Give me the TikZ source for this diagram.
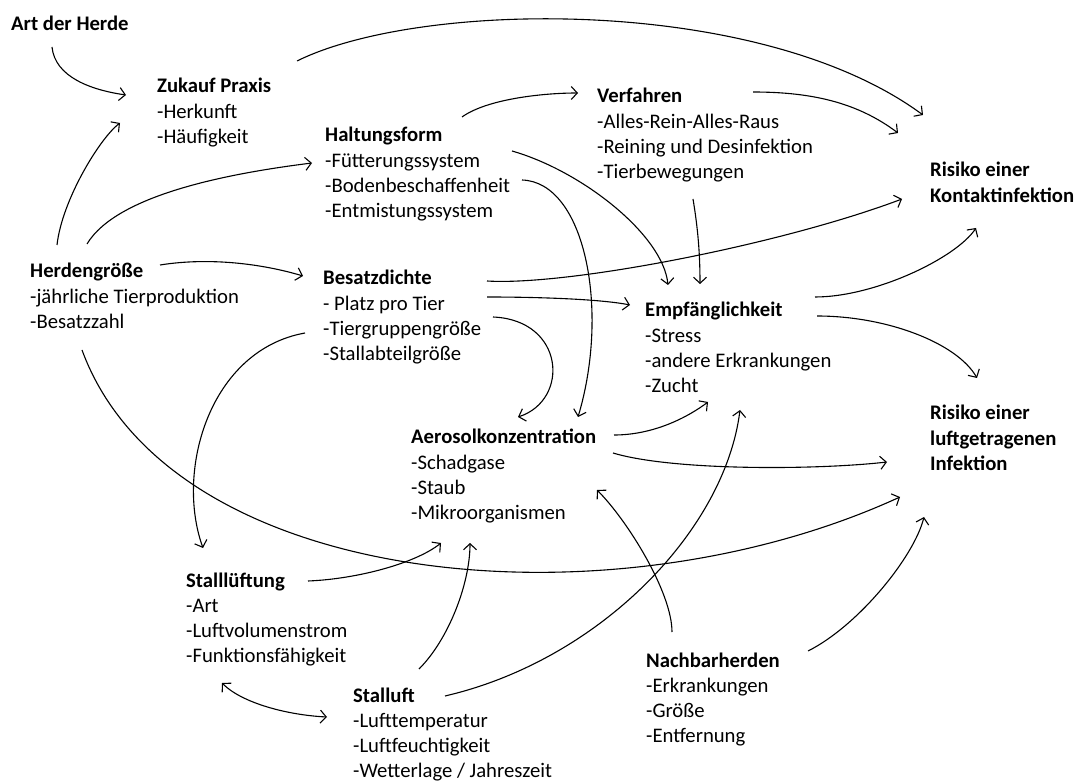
\documentclass[tikz,border=0pt]{standalone}
\usepackage{fontspec}
\setmainfont{Carlito}
\usetikzlibrary{arrows.meta}
\newcommand{\boxlines}[1]{\begin{tabular}[t]{@{}l@{}}#1\end{tabular}}

\begin{document}
\begin{tikzpicture}[x=1pt,y=-1pt,
  box/.style={anchor=base west,inner sep=0pt,
    font=\fontsize{20.7}{25.3}\selectfont},
  arr/.style={-{Straight Barb[length=6pt,width=13pt]},line width=1.1pt},
  dblarr/.style={{Straight Barb[length=6pt,width=13pt]}-{Straight Barb[length=6pt,width=13pt]},line width=1.1pt}]
\useasboundingbox (0,0) rectangle (1077,783);
% factors
\node[box] (art) at (11,31) {\textbf{Art der Herde}};
\node[box] (zukauf) at (157,93) {\boxlines{\textbf{Zukauf Praxis}\\-Herkunft\\-Häufigkeit}};
\node[box] (haltung) at (325,142) {\boxlines{\textbf{Haltungsform}\\-Fütterungssystem\\-Bodenbeschaffenheit\\-Entmistungssystem}};
\node[box] (verfahren) at (597,103) {\boxlines{\textbf{Verfahren}\\-Alles-Rein-Alles-Raus\\-Reining und Desinfektion\\-Tierbewegungen}};
\node[box] (herden) at (30,278) {\boxlines{\textbf{Herdengröße}\\-jährliche Tierproduktion\\-Besatzzahl}};
\node[box] (besatz) at (323,285) {\boxlines{\textbf{Besatzdichte}\\- Platz pro Tier\\-Tiergruppengröße\\-Stallabteilgröße}};
\node[box] (empf) at (645,317) {\boxlines{\textbf{Empfänglichkeit}\\-Stress\\-andere Erkrankungen\\-Zucht}};
\node[box] (aerosol) at (411,444) {\boxlines{\textbf{Aerosolkonzentration}\\-Schadgase\\-Staub\\-Mikroorganismen}};
\node[box] (lueftung) at (186,587) {\boxlines{\textbf{Stalllüftung}\\-Art\\-Luftvolumenstrom\\-Funktionsfähigkeit}};
\node[box] (stalluft) at (353,702) {\boxlines{\textbf{Stalluft}\\-Lufttemperatur\\-Luftfeuchtigkeit\\-Wetterlage / Jahreszeit}};
\node[box] (nachbar) at (646,667) {\boxlines{\textbf{Nachbarherden}\\-Erkrankungen\\-Größe\\-Entfernung}};
% outcomes
\node[box] (kontakt) at (930,177) {\boxlines{\textbf{Risiko einer}\\\textbf{Kontaktinfektion}}};
\node[box] (luft) at (930,420) {\boxlines{\textbf{Risiko einer}\\\textbf{luftgetragenen}\\\textbf{Infektion}}};

% influences
\draw[arr] ([shift={(41,16)}]art.base west) .. controls +(3,30) and +(-35,-5) .. ([shift={(-31,2)}]zukauf.base west);
\draw[arr] ([shift={(27,-33)}]herden.base west) .. controls +(5,-45) and +(-20,15) .. ([shift={(-37,30)}]zukauf.base west);
\draw[arr] ([shift={(57,-34)}]herden.base west) .. controls +(30,-50) and +(-80,10) .. ([shift={(-13,21)}]haltung.base west);
\draw[arr] ([shift={(130,-13)}]herden.base west) .. controls +(50,-8) and +(-40,-12) .. ([shift={(-20,-9)}]besatz.base west);
\draw[arr] ([shift={(52,72)}]herden.base west) .. controls +(88,240) and +(-290,133) .. ([shift={(-30,77)}]luft.base west);
\draw[arr] ([shift={(140,-32)}]zukauf.base west) .. controls +(123,-61) and +(-163,-120) .. ([shift={(-7,-62)}]kontakt.base west);
\draw[arr] ([shift={(137,-25)}]haltung.base west) .. controls +(25,-18) and +(-35,0) .. ([shift={(-19,-10)}]verfahren.base west);
\draw[arr] ([shift={(156,-11)}]verfahren.base west) .. controls +(60,0) and +(-40,-30) .. ([shift={(-32,-44)}]kontakt.base west);
\draw[arr] ([shift={(187,9)}]haltung.base west) .. controls +(70,20) and +(-5,-50) .. ([shift={(23,-32)}]empf.base west);
\draw[arr] ([shift={(197,38)}]haltung.base west) .. controls +(63,2) and +(32,-107) .. ([shift={(167,-27)}]aerosol.base west);
\draw[arr] ([shift={(96,96)}]verfahren.base west) .. controls +(5,30) and +(0,-30) .. ([shift={(55,-33)}]empf.base west);
\draw[arr] ([shift={(164,-4)}]besatz.base west) .. controls +(80,5) and +(-122,46) .. ([shift={(-28,22)}]kontakt.base west);
\draw[arr] ([shift={(164,12)}]besatz.base west) .. controls +(50,0) and +(-30,-6) .. ([shift={(-15,-12)}]empf.base west);
\draw[arr] ([shift={(170,32)}]besatz.base west) .. controls +(72,3) and +(52,-17) .. ([shift={(107,-27)}]aerosol.base west);
\draw[arr] ([shift={(-18,48)}]besatz.base west) .. controls +(-95,17) and +(-28,-78) .. ([shift={(17,-39)}]lueftung.base west);
\draw[arr] ([shift={(170,-20)}]empf.base west) .. controls +(60,0) and +(-20,30) .. ([shift={(46,51)}]kontakt.base west);
\draw[arr] ([shift={(172,-1)}]empf.base west) .. controls +(70,0) and +(-20,-35) .. ([shift={(47,-42)}]luft.base west);
\draw[arr] ([shift={(203,-9)}]aerosol.base west) .. controls +(40,0) and +(-20,15) .. ([shift={(63,85)}]empf.base west);
\draw[arr] ([shift={(202,9)}]aerosol.base west) .. controls +(60,18) and +(-70,8) .. ([shift={(-43,42)}]luft.base west);
\draw[arr] ([shift={(122,-6)}]lueftung.base west) .. controls +(50,-2) and +(-25,20) .. ([shift={(30,99)}]aerosol.base west);
\draw[arr] ([shift={(66,-33)}]stalluft.base west) .. controls +(30,-30) and +(0,40) .. ([shift={(59,99)}]aerosol.base west);
\draw[dblarr] ([shift={(36,96)}]lueftung.base west) .. controls +(20,20) and +(-40,-2) .. ([shift={(-26,15)}]stalluft.base west);
\draw[arr] ([shift={(92,-6)}]stalluft.base west) .. controls +(155,-36) and +(-15,120) .. ([shift={(95,93)}]empf.base west);
\draw[arr] ([shift={(26,-35)}]nachbar.base west) .. controls +(0,-40) and +(30,30) .. ([shift={(186,46)}]aerosol.base west);
\draw[arr] ([shift={(162,-16)}]nachbar.base west) .. controls +(50,-25) and +(-10,40) .. ([shift={(-6,97)}]luft.base west);
\end{tikzpicture}
\end{document}
